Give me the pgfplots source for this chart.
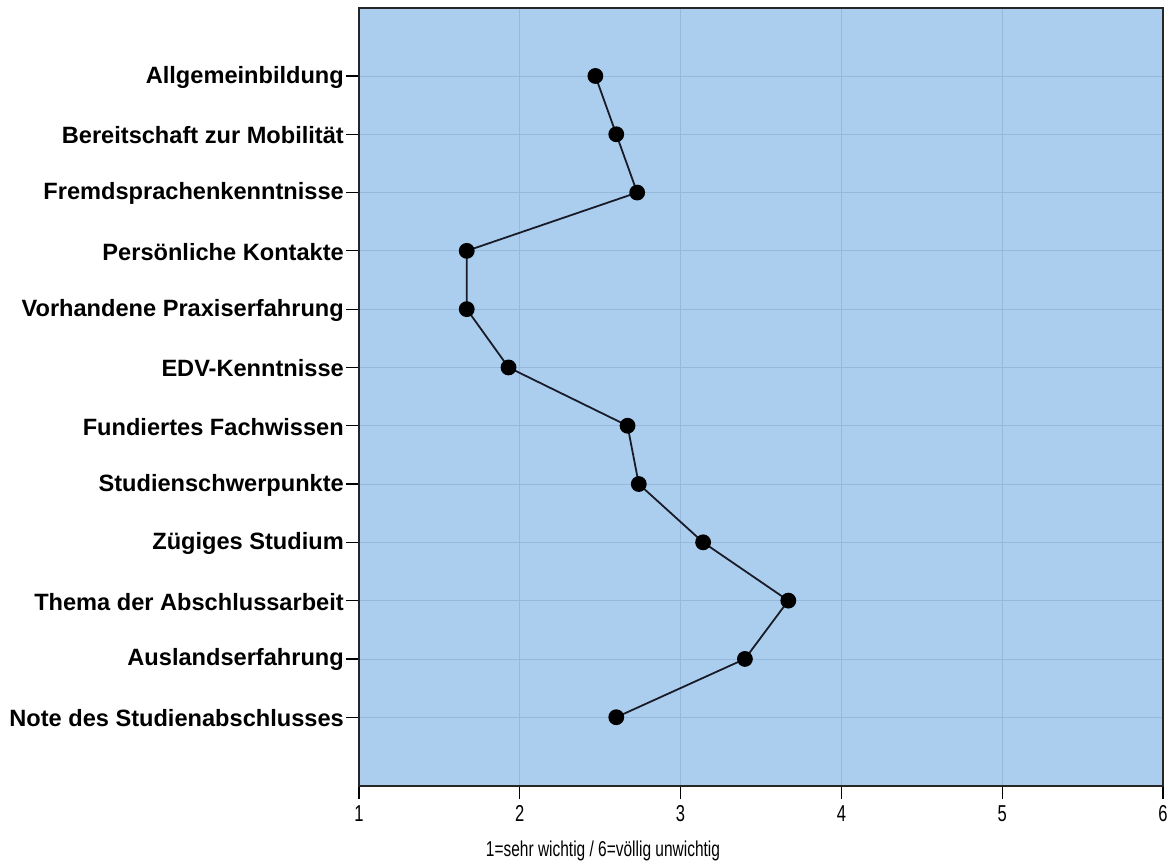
\documentclass[border=0pt]{standalone}
\usepackage{fontspec}
\setmainfont{Liberation Sans}
\newfontfamily\narrowfont[FakeStretch=0.72]{Liberation Sans}
\usepackage{pgfplots}
\pgfplotsset{compat=1.18}
\definecolor{plotbg}{RGB}{172,206,238}
\definecolor{gridc}{RGB}{150,184,218}
\definecolor{linec}{RGB}{25,28,40}
\begin{document}
\begin{tikzpicture}
\begin{axis}[
  scale only axis,
  width=804pt, height=778pt,
  xmin=1, xmax=6,
  ymin=-0.166, ymax=13.18,
  y dir=reverse,
  axis background/.style={fill=plotbg},
  axis line style={draw=black!85, line width=1.2pt},
  xtick={1,2,3,4,5,6},
  ytick={1,...,12},
  yticklabels={Allgemeinbildung, Bereitschaft zur Mobilität, Fremdsprachenkenntnisse,
    Persönliche Kontakte, Vorhandene Praxiserfahrung, EDV-Kenntnisse,
    Fundiertes Fachwissen, Studienschwerpunkte, Zügiges Studium,
    Thema der Abschlussarbeit, Auslandserfahrung, Note des Studienabschlusses},
  tick align=outside,
  major tick length=13pt,
  tick style={black, line width=1.2pt},
  xtick pos=bottom, ytick pos=left,
  grid=major,
  major grid style={gridc, line width=0.8pt},
  yticklabel style={font=\fontsize{23.6}{27}\selectfont\bfseries, inner sep=2pt, yshift=-1pt},
  xticklabel style={font=\narrowfont\fontsize{23}{27}\selectfont, inner sep=3pt, yshift=-3pt},
  /pgf/number format/assume math mode=true,
  xlabel={1=sehr wichtig / 6=völlig unwichtig},
  xlabel style={font=\narrowfont\fontsize{21.5}{25}\selectfont,
    at={(axis description cs:0.3035,0)}, anchor=north, yshift=-51pt},
]
\addplot[linec, line width=1.8pt, mark=*, mark size=7pt, mark options={fill=black, draw=black}]
  coordinates {
  (2.47,1) (2.60,2) (2.73,3) (1.67,4) (1.67,5) (1.93,6)
  (2.67,7) (2.74,8) (3.14,9) (3.67,10) (3.40,11) (2.60,12)
  };
\end{axis}
\pgfresetboundingbox
\path[use as bounding box] (-359pt,-80pt) rectangle (815pt,786pt);
\end{tikzpicture}
\end{document}
